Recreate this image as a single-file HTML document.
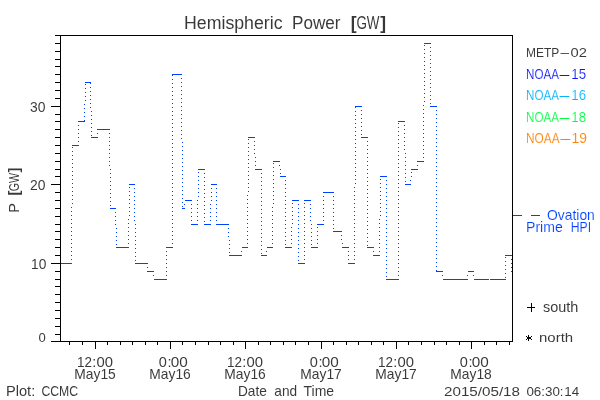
<!DOCTYPE html>
<html><head><meta charset="utf-8"><title>Hemispheric Power</title>
<style>html,body{margin:0;padding:0;background:#fff;width:600px;height:400px;overflow:hidden}svg{display:block;will-change:transform}</style>
</head><body>
<svg width="600" height="400" viewBox="0 0 600 400" shape-rendering="crispEdges">
<rect x="0" y="0" width="600" height="400" fill="#fff"/>
<path d="M60 35h1v307h-1zM60 35h453v1h-453zM512 35h1v307h-1zM60 341h453v1h-453zM51 341h9v1h-9zM55 334h5v1h-5zM55 326h5v1h-5zM55 318h5v1h-5zM55 310h5v1h-5zM55 302h5v1h-5zM55 294h5v1h-5zM55 286h5v1h-5zM55 279h5v1h-5zM55 271h5v1h-5zM51 263h9v1h-9zM55 255h5v1h-5zM55 247h5v1h-5zM55 239h5v1h-5zM55 231h5v1h-5zM55 224h5v1h-5zM55 216h5v1h-5zM55 208h5v1h-5zM55 200h5v1h-5zM55 192h5v1h-5zM51 184h9v1h-9zM55 176h5v1h-5zM55 169h5v1h-5zM55 161h5v1h-5zM55 153h5v1h-5zM55 145h5v1h-5zM55 137h5v1h-5zM55 129h5v1h-5zM55 121h5v1h-5zM55 114h5v1h-5zM51 106h9v1h-9zM55 98h5v1h-5zM55 90h5v1h-5zM55 82h5v1h-5zM55 74h5v1h-5zM55 66h5v1h-5zM55 59h5v1h-5zM55 51h5v1h-5zM55 43h5v1h-5zM55 35h5v1h-5zM69 342h1v3h-1zM82 342h1v3h-1zM95 342h1v7h-1zM107 342h1v3h-1zM120 342h1v3h-1zM132 342h1v3h-1zM145 342h1v3h-1zM157 342h1v3h-1zM170 342h1v7h-1zM182 342h1v3h-1zM195 342h1v3h-1zM208 342h1v3h-1zM220 342h1v3h-1zM233 342h1v3h-1zM245 342h1v7h-1zM258 342h1v3h-1zM270 342h1v3h-1zM283 342h1v3h-1zM295 342h1v3h-1zM308 342h1v3h-1zM321 342h1v7h-1zM333 342h1v3h-1zM346 342h1v3h-1zM358 342h1v3h-1zM371 342h1v3h-1zM383 342h1v3h-1zM396 342h1v7h-1zM408 342h1v3h-1zM421 342h1v3h-1zM434 342h1v3h-1zM446 342h1v3h-1zM459 342h1v3h-1zM471 342h1v7h-1zM484 342h1v3h-1zM496 342h1v3h-1zM509 342h1v3h-1z" fill="#000"/>
<path d="M61 263h11v1h-11zM72 145h7v1h-7zM78 121h7v1h-7zM85 82h6v1h-6zM91 137h7v1h-7zM97 129h13v1h-13zM110 208h6v1h-6zM116 247h13v1h-13zM129 184h6v1h-6zM135 263h13v1h-13zM147 271h7v1h-7zM154 279h13v1h-13zM166 247h7v1h-7zM172 74h10v1h-10zM182 208h3v1h-3zM185 200h7v1h-7zM191 224h7v1h-7zM198 169h7v1h-7zM204 224h7v1h-7zM211 184h6v1h-6zM216 224h13v1h-13zM229 255h13v1h-13zM242 247h6v1h-6zM248 137h7v1h-7zM255 169h7v1h-7zM261 255h6v1h-6zM267 247h6v1h-6zM273 161h7v1h-7zM280 176h6v1h-6zM285 247h7v1h-7zM292 200h7v1h-7zM298 263h7v1h-7zM304 200h7v1h-7zM311 247h7v1h-7zM317 224h7v1h-7zM323 192h11v1h-11zM333 231h9v1h-9zM342 247h7v1h-7zM348 263h7v1h-7zM355 106h7v1h-7zM361 137h7v1h-7zM367 247h7v1h-7zM373 255h7v1h-7zM380 176h7v1h-7zM386 279h13v1h-13zM398 121h7v1h-7zM405 184h6v1h-6zM411 169h7v1h-7zM417 161h7v1h-7zM424 43h7v1h-7zM430 106h7v1h-7zM436 271h7v1h-7zM443 279h25v1h-25zM468 271h6v1h-6zM474 279h15v1h-15zM490 279h16v1h-16zM505 255h7v1h-7zM511 271h1v1h-1zM71 259h1v1h-1zM71 255h1v1h-1zM71 251h1v1h-1zM71 247h1v1h-1zM71 243h1v1h-1zM71 239h1v1h-1zM71 235h1v1h-1zM71 231h1v1h-1zM71 227h1v1h-1zM71 223h1v1h-1zM71 219h1v1h-1zM71 215h1v1h-1zM71 211h1v1h-1zM71 207h1v1h-1zM72 203h1v1h-1zM72 199h1v1h-1zM72 195h1v1h-1zM72 191h1v1h-1zM72 187h1v1h-1zM72 183h1v1h-1zM72 179h1v1h-1zM72 175h1v1h-1zM72 171h1v1h-1zM72 167h1v1h-1zM72 163h1v1h-1zM72 159h1v1h-1zM72 155h1v1h-1zM72 151h1v1h-1zM72 147h1v1h-1zM78 141h1v1h-1zM78 137h1v1h-1zM78 133h1v1h-1zM78 129h1v1h-1zM78 125h1v1h-1zM84 120h1v1h-1zM84 116h1v1h-1zM84 112h1v1h-1zM84 108h1v1h-1zM84 104h1v1h-1zM85 100h1v1h-1zM85 96h1v1h-1zM85 92h1v1h-1zM85 88h1v1h-1zM85 84h1v1h-1zM90 83h1v1h-1zM90 87h1v1h-1zM90 91h1v1h-1zM90 95h1v1h-1zM90 99h1v1h-1zM90 103h1v1h-1zM90 107h1v1h-1zM91 111h1v1h-1zM91 115h1v1h-1zM91 119h1v1h-1zM91 123h1v1h-1zM91 127h1v1h-1zM91 131h1v1h-1zM91 135h1v1h-1zM97 133h1v1h-1zM109 133h1v1h-1zM109 137h1v1h-1zM109 141h1v1h-1zM109 145h1v1h-1zM109 149h1v1h-1zM109 153h1v1h-1zM109 157h1v1h-1zM109 161h1v1h-1zM109 165h1v1h-1zM110 169h1v1h-1zM110 173h1v1h-1zM110 177h1v1h-1zM110 181h1v1h-1zM110 185h1v1h-1zM110 189h1v1h-1zM110 193h1v1h-1zM110 197h1v1h-1zM110 201h1v1h-1zM110 205h1v1h-1zM115 212h1v1h-1zM115 216h1v1h-1zM115 220h1v1h-1zM115 224h1v1h-1zM116 228h1v1h-1zM116 232h1v1h-1zM116 236h1v1h-1zM116 240h1v1h-1zM116 244h1v1h-1zM128 243h1v1h-1zM128 239h1v1h-1zM128 235h1v1h-1zM128 231h1v1h-1zM128 227h1v1h-1zM128 223h1v1h-1zM128 219h1v1h-1zM129 215h1v1h-1zM129 211h1v1h-1zM129 207h1v1h-1zM129 203h1v1h-1zM129 199h1v1h-1zM129 195h1v1h-1zM129 191h1v1h-1zM129 187h1v1h-1zM134 188h1v1h-1zM134 192h1v1h-1zM134 196h1v1h-1zM134 200h1v1h-1zM134 204h1v1h-1zM134 208h1v1h-1zM134 212h1v1h-1zM134 216h1v1h-1zM134 220h1v1h-1zM135 224h1v1h-1zM135 228h1v1h-1zM135 232h1v1h-1zM135 236h1v1h-1zM135 240h1v1h-1zM135 244h1v1h-1zM135 248h1v1h-1zM135 252h1v1h-1zM135 256h1v1h-1zM135 260h1v1h-1zM147 267h1v1h-1zM153 275h1v1h-1zM166 275h1v1h-1zM166 271h1v1h-1zM166 267h1v1h-1zM166 263h1v1h-1zM166 259h1v1h-1zM166 255h1v1h-1zM166 251h1v1h-1zM172 243h1v1h-1zM172 239h1v1h-1zM172 235h1v1h-1zM172 231h1v1h-1zM172 227h1v1h-1zM172 223h1v1h-1zM172 219h1v1h-1zM172 215h1v1h-1zM172 211h1v1h-1zM172 207h1v1h-1zM172 203h1v1h-1zM172 199h1v1h-1zM172 195h1v1h-1zM172 191h1v1h-1zM172 187h1v1h-1zM172 183h1v1h-1zM172 179h1v1h-1zM172 175h1v1h-1zM172 171h1v1h-1zM172 167h1v1h-1zM172 163h1v1h-1zM172 159h1v1h-1zM172 155h1v1h-1zM172 151h1v1h-1zM172 147h1v1h-1zM172 143h1v1h-1zM172 139h1v1h-1zM172 135h1v1h-1zM172 131h1v1h-1zM172 127h1v1h-1zM172 123h1v1h-1zM172 119h1v1h-1zM172 115h1v1h-1zM172 111h1v1h-1zM172 107h1v1h-1zM172 103h1v1h-1zM172 99h1v1h-1zM172 95h1v1h-1zM172 91h1v1h-1zM172 87h1v1h-1zM172 83h1v1h-1zM172 79h1v1h-1zM172 75h1v1h-1zM181 78h1v1h-1zM181 82h1v1h-1zM181 86h1v1h-1zM181 90h1v1h-1zM181 94h1v1h-1zM181 98h1v1h-1zM181 102h1v1h-1zM181 106h1v1h-1zM181 110h1v1h-1zM181 114h1v1h-1zM181 118h1v1h-1zM181 122h1v1h-1zM181 126h1v1h-1zM181 130h1v1h-1zM181 134h1v1h-1zM181 138h1v1h-1zM182 142h1v1h-1zM182 146h1v1h-1zM182 150h1v1h-1zM182 154h1v1h-1zM182 158h1v1h-1zM182 162h1v1h-1zM182 166h1v1h-1zM182 170h1v1h-1zM182 174h1v1h-1zM182 178h1v1h-1zM182 182h1v1h-1zM182 186h1v1h-1zM182 190h1v1h-1zM182 194h1v1h-1zM182 198h1v1h-1zM182 202h1v1h-1zM182 206h1v1h-1zM184 204h1v1h-1zM191 204h1v1h-1zM191 208h1v1h-1zM191 212h1v1h-1zM191 216h1v1h-1zM191 220h1v1h-1zM197 220h1v1h-1zM197 216h1v1h-1zM197 212h1v1h-1zM197 208h1v1h-1zM197 204h1v1h-1zM197 200h1v1h-1zM198 196h1v1h-1zM198 192h1v1h-1zM198 188h1v1h-1zM198 184h1v1h-1zM198 180h1v1h-1zM198 176h1v1h-1zM198 172h1v1h-1zM204 173h1v1h-1zM204 177h1v1h-1zM204 181h1v1h-1zM204 185h1v1h-1zM204 189h1v1h-1zM204 193h1v1h-1zM204 197h1v1h-1zM204 201h1v1h-1zM204 205h1v1h-1zM204 209h1v1h-1zM204 213h1v1h-1zM204 217h1v1h-1zM204 221h1v1h-1zM210 220h1v1h-1zM210 216h1v1h-1zM210 212h1v1h-1zM210 208h1v1h-1zM210 204h1v1h-1zM211 200h1v1h-1zM211 196h1v1h-1zM211 192h1v1h-1zM211 188h1v1h-1zM216 188h1v1h-1zM216 192h1v1h-1zM216 196h1v1h-1zM216 200h1v1h-1zM216 204h1v1h-1zM216 208h1v1h-1zM216 212h1v1h-1zM216 216h1v1h-1zM216 220h1v1h-1zM228 228h1v1h-1zM228 232h1v1h-1zM228 236h1v1h-1zM229 240h1v1h-1zM229 244h1v1h-1zM229 248h1v1h-1zM229 252h1v1h-1zM241 251h1v1h-1zM247 243h1v1h-1zM247 239h1v1h-1zM247 235h1v1h-1zM247 231h1v1h-1zM247 227h1v1h-1zM247 223h1v1h-1zM247 219h1v1h-1zM247 215h1v1h-1zM247 211h1v1h-1zM247 207h1v1h-1zM247 203h1v1h-1zM247 199h1v1h-1zM247 195h1v1h-1zM248 191h1v1h-1zM248 187h1v1h-1zM248 183h1v1h-1zM248 179h1v1h-1zM248 175h1v1h-1zM248 171h1v1h-1zM248 167h1v1h-1zM248 163h1v1h-1zM248 159h1v1h-1zM248 155h1v1h-1zM248 151h1v1h-1zM248 147h1v1h-1zM248 143h1v1h-1zM248 139h1v1h-1zM254 141h1v1h-1zM254 145h1v1h-1zM254 149h1v1h-1zM254 153h1v1h-1zM255 157h1v1h-1zM255 161h1v1h-1zM255 165h1v1h-1zM261 173h1v1h-1zM261 177h1v1h-1zM261 181h1v1h-1zM261 185h1v1h-1zM261 189h1v1h-1zM261 193h1v1h-1zM261 197h1v1h-1zM261 201h1v1h-1zM261 205h1v1h-1zM261 209h1v1h-1zM261 213h1v1h-1zM261 217h1v1h-1zM261 221h1v1h-1zM261 225h1v1h-1zM261 229h1v1h-1zM261 233h1v1h-1zM261 237h1v1h-1zM261 241h1v1h-1zM261 245h1v1h-1zM261 249h1v1h-1zM261 253h1v1h-1zM266 251h1v1h-1zM272 243h1v1h-1zM272 239h1v1h-1zM272 235h1v1h-1zM272 231h1v1h-1zM272 227h1v1h-1zM272 223h1v1h-1zM272 219h1v1h-1zM272 215h1v1h-1zM272 211h1v1h-1zM272 207h1v1h-1zM273 203h1v1h-1zM273 199h1v1h-1zM273 195h1v1h-1zM273 191h1v1h-1zM273 187h1v1h-1zM273 183h1v1h-1zM273 179h1v1h-1zM273 175h1v1h-1zM273 171h1v1h-1zM273 167h1v1h-1zM273 163h1v1h-1zM279 165h1v1h-1zM280 169h1v1h-1zM280 173h1v1h-1zM285 180h1v1h-1zM285 184h1v1h-1zM285 188h1v1h-1zM285 192h1v1h-1zM285 196h1v1h-1zM285 200h1v1h-1zM285 204h1v1h-1zM285 208h1v1h-1zM285 212h1v1h-1zM285 216h1v1h-1zM285 220h1v1h-1zM285 224h1v1h-1zM285 228h1v1h-1zM285 232h1v1h-1zM285 236h1v1h-1zM285 240h1v1h-1zM285 244h1v1h-1zM291 243h1v1h-1zM291 239h1v1h-1zM291 235h1v1h-1zM291 231h1v1h-1zM291 227h1v1h-1zM292 223h1v1h-1zM292 219h1v1h-1zM292 215h1v1h-1zM292 211h1v1h-1zM292 207h1v1h-1zM292 203h1v1h-1zM298 204h1v1h-1zM298 208h1v1h-1zM298 212h1v1h-1zM298 216h1v1h-1zM298 220h1v1h-1zM298 224h1v1h-1zM298 228h1v1h-1zM298 232h1v1h-1zM298 236h1v1h-1zM298 240h1v1h-1zM298 244h1v1h-1zM298 248h1v1h-1zM298 252h1v1h-1zM298 256h1v1h-1zM298 260h1v1h-1zM304 259h1v1h-1zM304 255h1v1h-1zM304 251h1v1h-1zM304 247h1v1h-1zM304 243h1v1h-1zM304 239h1v1h-1zM304 235h1v1h-1zM304 231h1v1h-1zM304 227h1v1h-1zM304 223h1v1h-1zM304 219h1v1h-1zM304 215h1v1h-1zM304 211h1v1h-1zM304 207h1v1h-1zM304 203h1v1h-1zM310 204h1v1h-1zM310 208h1v1h-1zM310 212h1v1h-1zM310 216h1v1h-1zM310 220h1v1h-1zM311 224h1v1h-1zM311 228h1v1h-1zM311 232h1v1h-1zM311 236h1v1h-1zM311 240h1v1h-1zM311 244h1v1h-1zM317 243h1v1h-1zM317 239h1v1h-1zM317 235h1v1h-1zM317 231h1v1h-1zM317 227h1v1h-1zM323 220h1v1h-1zM323 216h1v1h-1zM323 212h1v1h-1zM323 208h1v1h-1zM323 204h1v1h-1zM323 200h1v1h-1zM323 196h1v1h-1zM333 196h1v1h-1zM333 200h1v1h-1zM333 204h1v1h-1zM333 208h1v1h-1zM333 212h1v1h-1zM333 216h1v1h-1zM333 220h1v1h-1zM333 224h1v1h-1zM333 228h1v1h-1zM341 235h1v1h-1zM341 239h1v1h-1zM342 243h1v1h-1zM348 251h1v1h-1zM348 255h1v1h-1zM348 259h1v1h-1zM354 259h1v1h-1zM354 255h1v1h-1zM354 251h1v1h-1zM354 247h1v1h-1zM354 243h1v1h-1zM354 239h1v1h-1zM354 235h1v1h-1zM354 231h1v1h-1zM354 227h1v1h-1zM354 223h1v1h-1zM354 219h1v1h-1zM354 215h1v1h-1zM354 211h1v1h-1zM354 207h1v1h-1zM354 203h1v1h-1zM354 199h1v1h-1zM354 195h1v1h-1zM354 191h1v1h-1zM354 187h1v1h-1zM355 183h1v1h-1zM355 179h1v1h-1zM355 175h1v1h-1zM355 171h1v1h-1zM355 167h1v1h-1zM355 163h1v1h-1zM355 159h1v1h-1zM355 155h1v1h-1zM355 151h1v1h-1zM355 147h1v1h-1zM355 143h1v1h-1zM355 139h1v1h-1zM355 135h1v1h-1zM355 131h1v1h-1zM355 127h1v1h-1zM355 123h1v1h-1zM355 119h1v1h-1zM355 115h1v1h-1zM355 111h1v1h-1zM355 107h1v1h-1zM361 110h1v1h-1zM361 114h1v1h-1zM361 118h1v1h-1zM361 122h1v1h-1zM361 126h1v1h-1zM361 130h1v1h-1zM361 134h1v1h-1zM367 141h1v1h-1zM367 145h1v1h-1zM367 149h1v1h-1zM367 153h1v1h-1zM367 157h1v1h-1zM367 161h1v1h-1zM367 165h1v1h-1zM367 169h1v1h-1zM367 173h1v1h-1zM367 177h1v1h-1zM367 181h1v1h-1zM367 185h1v1h-1zM367 189h1v1h-1zM367 193h1v1h-1zM367 197h1v1h-1zM367 201h1v1h-1zM367 205h1v1h-1zM367 209h1v1h-1zM367 213h1v1h-1zM367 217h1v1h-1zM367 221h1v1h-1zM367 225h1v1h-1zM367 229h1v1h-1zM367 233h1v1h-1zM367 237h1v1h-1zM367 241h1v1h-1zM367 245h1v1h-1zM373 251h1v1h-1zM379 251h1v1h-1zM379 247h1v1h-1zM379 243h1v1h-1zM379 239h1v1h-1zM379 235h1v1h-1zM379 231h1v1h-1zM379 227h1v1h-1zM379 223h1v1h-1zM379 219h1v1h-1zM380 215h1v1h-1zM380 211h1v1h-1zM380 207h1v1h-1zM380 203h1v1h-1zM380 199h1v1h-1zM380 195h1v1h-1zM380 191h1v1h-1zM380 187h1v1h-1zM380 183h1v1h-1zM380 179h1v1h-1zM386 180h1v1h-1zM386 184h1v1h-1zM386 188h1v1h-1zM386 192h1v1h-1zM386 196h1v1h-1zM386 200h1v1h-1zM386 204h1v1h-1zM386 208h1v1h-1zM386 212h1v1h-1zM386 216h1v1h-1zM386 220h1v1h-1zM386 224h1v1h-1zM386 228h1v1h-1zM386 232h1v1h-1zM386 236h1v1h-1zM386 240h1v1h-1zM386 244h1v1h-1zM386 248h1v1h-1zM386 252h1v1h-1zM386 256h1v1h-1zM386 260h1v1h-1zM386 264h1v1h-1zM386 268h1v1h-1zM386 272h1v1h-1zM386 276h1v1h-1zM398 275h1v1h-1zM398 271h1v1h-1zM398 267h1v1h-1zM398 263h1v1h-1zM398 259h1v1h-1zM398 255h1v1h-1zM398 251h1v1h-1zM398 247h1v1h-1zM398 243h1v1h-1zM398 239h1v1h-1zM398 235h1v1h-1zM398 231h1v1h-1zM398 227h1v1h-1zM398 223h1v1h-1zM398 219h1v1h-1zM398 215h1v1h-1zM398 211h1v1h-1zM398 207h1v1h-1zM398 203h1v1h-1zM398 199h1v1h-1zM398 195h1v1h-1zM398 191h1v1h-1zM398 187h1v1h-1zM398 183h1v1h-1zM398 179h1v1h-1zM398 175h1v1h-1zM398 171h1v1h-1zM398 167h1v1h-1zM398 163h1v1h-1zM398 159h1v1h-1zM398 155h1v1h-1zM398 151h1v1h-1zM398 147h1v1h-1zM398 143h1v1h-1zM398 139h1v1h-1zM398 135h1v1h-1zM398 131h1v1h-1zM398 127h1v1h-1zM398 123h1v1h-1zM404 125h1v1h-1zM404 129h1v1h-1zM404 133h1v1h-1zM404 137h1v1h-1zM404 141h1v1h-1zM404 145h1v1h-1zM404 149h1v1h-1zM405 153h1v1h-1zM405 157h1v1h-1zM405 161h1v1h-1zM405 165h1v1h-1zM405 169h1v1h-1zM405 173h1v1h-1zM405 177h1v1h-1zM405 181h1v1h-1zM410 180h1v1h-1zM411 176h1v1h-1zM411 172h1v1h-1zM417 165h1v1h-1zM423 157h1v1h-1zM423 153h1v1h-1zM423 149h1v1h-1zM423 145h1v1h-1zM423 141h1v1h-1zM423 137h1v1h-1zM423 133h1v1h-1zM423 129h1v1h-1zM423 125h1v1h-1zM423 121h1v1h-1zM423 117h1v1h-1zM423 113h1v1h-1zM423 109h1v1h-1zM423 105h1v1h-1zM424 101h1v1h-1zM424 97h1v1h-1zM424 93h1v1h-1zM424 89h1v1h-1zM424 85h1v1h-1zM424 81h1v1h-1zM424 77h1v1h-1zM424 73h1v1h-1zM424 69h1v1h-1zM424 65h1v1h-1zM424 61h1v1h-1zM424 57h1v1h-1zM424 53h1v1h-1zM424 49h1v1h-1zM424 45h1v1h-1zM430 47h1v1h-1zM430 51h1v1h-1zM430 55h1v1h-1zM430 59h1v1h-1zM430 63h1v1h-1zM430 67h1v1h-1zM430 71h1v1h-1zM430 75h1v1h-1zM430 79h1v1h-1zM430 83h1v1h-1zM430 87h1v1h-1zM430 91h1v1h-1zM430 95h1v1h-1zM430 99h1v1h-1zM430 103h1v1h-1zM436 110h1v1h-1zM436 114h1v1h-1zM436 118h1v1h-1zM436 122h1v1h-1zM436 126h1v1h-1zM436 130h1v1h-1zM436 134h1v1h-1zM436 138h1v1h-1zM436 142h1v1h-1zM436 146h1v1h-1zM436 150h1v1h-1zM436 154h1v1h-1zM436 158h1v1h-1zM436 162h1v1h-1zM436 166h1v1h-1zM436 170h1v1h-1zM436 174h1v1h-1zM436 178h1v1h-1zM436 182h1v1h-1zM436 186h1v1h-1zM436 190h1v1h-1zM436 194h1v1h-1zM436 198h1v1h-1zM436 202h1v1h-1zM436 206h1v1h-1zM436 210h1v1h-1zM436 214h1v1h-1zM436 218h1v1h-1zM436 222h1v1h-1zM436 226h1v1h-1zM436 230h1v1h-1zM436 234h1v1h-1zM436 238h1v1h-1zM436 242h1v1h-1zM436 246h1v1h-1zM436 250h1v1h-1zM436 254h1v1h-1zM436 258h1v1h-1zM436 262h1v1h-1zM436 266h1v1h-1zM436 270h1v1h-1zM442 275h1v1h-1zM467 275h1v1h-1zM473 275h1v1h-1zM505 277h1v1h-1zM505 273h1v1h-1zM505 269h1v1h-1zM505 265h1v1h-1zM505 261h1v1h-1zM505 257h1v1h-1zM511 259h1v1h-1zM511 263h1v1h-1zM511 267h1v1h-1zM511 271h1v1h-1z" fill="#0040ff"/>
<path d="M513 215h9v1h-9zM531 215h9v1h-9z" fill="#0040ff"/>
<path d="M531 303h1v9h-1zM527 307h8v1h-8zM528 335h1v6h-1zM527 337h4v2h-4zM526 336h1v1h-1zM531 336h1v1h-1zM526 339h1v1h-1zM531 339h1v1h-1z" fill="#000"/>

<g font-family="&quot;Liberation Sans&quot;, sans-serif"><text y="29" font-size="17.44" fill="#000" fill-opacity="0.78"><tspan x="184.00" textLength="98.56" lengthAdjust="spacingAndGlyphs">Hemispheric</tspan> <tspan x="292.05" textLength="48.48" lengthAdjust="spacingAndGlyphs">Power</tspan> <tspan x="350.65" font-weight="bold">[</tspan><tspan x="356.40" textLength="23.10" lengthAdjust="spacingAndGlyphs">GW</tspan><tspan x="380.30" font-weight="bold">]</tspan></text>
<text y="112" font-size="14.54" fill="#000" fill-opacity="0.78"><tspan x="30.00" textLength="15.45" lengthAdjust="spacingAndGlyphs">30</tspan></text>
<text y="190" font-size="14.54" fill="#000" fill-opacity="0.78"><tspan x="30.00" textLength="15.45" lengthAdjust="spacingAndGlyphs">20</tspan></text>
<text y="269" font-size="14.54" fill="#000" fill-opacity="0.78"><tspan x="31.00" textLength="15.28" lengthAdjust="spacingAndGlyphs">10</tspan></text>
<text y="342" font-size="13.08" fill="#000" fill-opacity="0.78"><tspan x="38.59">0</tspan></text>
<text y="367" font-size="14.54" fill="#000" fill-opacity="0.78"><tspan x="77.00" textLength="14.95" lengthAdjust="spacingAndGlyphs">12</tspan><tspan x="92.25">:</tspan><tspan x="96.56" textLength="16.48" lengthAdjust="spacingAndGlyphs">00</tspan></text>
<text y="379" font-size="14.54" fill="#000" fill-opacity="0.78"><tspan x="74.30" textLength="41.47" lengthAdjust="spacingAndGlyphs">May15</tspan></text>
<text y="367" font-size="14.54" fill="#000" fill-opacity="0.78"><tspan x="158.76">0</tspan><tspan x="167.38">:</tspan><tspan x="170.81" textLength="17.01" lengthAdjust="spacingAndGlyphs">00</tspan></text>
<text y="379" font-size="14.54" fill="#000" fill-opacity="0.78"><tspan x="149.30" textLength="41.47" lengthAdjust="spacingAndGlyphs">May16</tspan></text>
<text y="367" font-size="14.54" fill="#000" fill-opacity="0.78"><tspan x="227.00" textLength="14.95" lengthAdjust="spacingAndGlyphs">12</tspan><tspan x="242.25">:</tspan><tspan x="246.56" textLength="16.48" lengthAdjust="spacingAndGlyphs">00</tspan></text>
<text y="379" font-size="14.54" fill="#000" fill-opacity="0.78"><tspan x="224.30" textLength="41.47" lengthAdjust="spacingAndGlyphs">May16</tspan></text>
<text y="367" font-size="14.54" fill="#000" fill-opacity="0.78"><tspan x="309.76">0</tspan><tspan x="318.38">:</tspan><tspan x="321.81" textLength="17.01" lengthAdjust="spacingAndGlyphs">00</tspan></text>
<text y="379" font-size="14.54" fill="#000" fill-opacity="0.78"><tspan x="300.30" textLength="41.47" lengthAdjust="spacingAndGlyphs">May17</tspan></text>
<text y="367" font-size="14.54" fill="#000" fill-opacity="0.78"><tspan x="378.00" textLength="14.95" lengthAdjust="spacingAndGlyphs">12</tspan><tspan x="393.25">:</tspan><tspan x="397.56" textLength="16.48" lengthAdjust="spacingAndGlyphs">00</tspan></text>
<text y="379" font-size="14.54" fill="#000" fill-opacity="0.78"><tspan x="375.30" textLength="41.47" lengthAdjust="spacingAndGlyphs">May17</tspan></text>
<text y="367" font-size="14.54" fill="#000" fill-opacity="0.78"><tspan x="459.76">0</tspan><tspan x="468.38">:</tspan><tspan x="471.81" textLength="17.01" lengthAdjust="spacingAndGlyphs">00</tspan></text>
<text y="379" font-size="14.54" fill="#000" fill-opacity="0.78"><tspan x="450.30" textLength="41.47" lengthAdjust="spacingAndGlyphs">May18</tspan></text>
<text y="396" font-size="14.54" fill="#000" fill-opacity="0.78"><tspan x="5.90" textLength="25.27" lengthAdjust="spacingAndGlyphs">Plot</tspan><tspan x="31.25">:</tspan> <tspan x="41.40" textLength="36.79" lengthAdjust="spacingAndGlyphs">CCMC</tspan></text>
<text y="396" font-size="14.54" fill="#000" fill-opacity="0.78"><tspan x="238.00" textLength="28.88" lengthAdjust="spacingAndGlyphs">Date</tspan> <tspan x="274.31" textLength="22.78" lengthAdjust="spacingAndGlyphs">and</tspan> <tspan x="303.55" textLength="30.52" lengthAdjust="spacingAndGlyphs">Time</tspan></text>
<text y="396" font-size="13.08" fill="#000" fill-opacity="0.78"><tspan x="444.00" textLength="76.01" lengthAdjust="spacingAndGlyphs">2015/05/18</tspan> <tspan x="526.42" textLength="14.89" lengthAdjust="spacingAndGlyphs">06</tspan><tspan x="541.21">:</tspan><tspan x="544.97" textLength="14.89" lengthAdjust="spacingAndGlyphs">30</tspan><tspan x="559.76">:</tspan><tspan x="564.35" textLength="14.83" lengthAdjust="spacingAndGlyphs">14</tspan></text>
<text y="57" font-size="13.08" fill="#000" fill-opacity="0.78"><tspan x="526.00" textLength="33.19" lengthAdjust="spacingAndGlyphs">METP</tspan><tspan x="560.52" textLength="8.63" lengthAdjust="spacingAndGlyphs">–</tspan><tspan x="570.50" textLength="16.36" lengthAdjust="spacingAndGlyphs">02</tspan></text>
<text y="79" font-size="14.54" fill="#0814ff" stroke="#fff" stroke-width="0.15"><tspan x="526.00" textLength="32.98" lengthAdjust="spacingAndGlyphs">NOAA</tspan><tspan x="559.52" textLength="9.99" lengthAdjust="spacingAndGlyphs">–</tspan><tspan x="571.25" textLength="14.77" lengthAdjust="spacingAndGlyphs">15</tspan></text>
<text y="100" font-size="14.54" fill="#00b4ff" stroke="#fff" stroke-width="0.15"><tspan x="526.00" textLength="32.98" lengthAdjust="spacingAndGlyphs">NOAA</tspan><tspan x="559.52" textLength="9.99" lengthAdjust="spacingAndGlyphs">–</tspan><tspan x="571.25" textLength="14.77" lengthAdjust="spacingAndGlyphs">16</tspan></text>
<text y="122" font-size="14.54" fill="#00ff40" stroke="#fff" stroke-width="0.15"><tspan x="526.00" textLength="32.98" lengthAdjust="spacingAndGlyphs">NOAA</tspan><tspan x="559.52" textLength="9.99" lengthAdjust="spacingAndGlyphs">–</tspan><tspan x="571.25" textLength="14.77" lengthAdjust="spacingAndGlyphs">18</tspan></text>
<text y="143" font-size="14.54" fill="#ff8000" stroke="#fff" stroke-width="0.15"><tspan x="526.00" textLength="33.57" lengthAdjust="spacingAndGlyphs">NOAA</tspan><tspan x="560.20" textLength="10.15" lengthAdjust="spacingAndGlyphs">–</tspan><tspan x="571.52" textLength="15.46" lengthAdjust="spacingAndGlyphs">19</tspan></text>
<text y="220" font-size="14.54" fill="#0040ff" stroke="#fff" stroke-width="0.15"><tspan x="547.00" textLength="47.86" lengthAdjust="spacingAndGlyphs">Ovation</tspan></text>
<text y="232" font-size="14.54" fill="#0040ff" stroke="#fff" stroke-width="0.15"><tspan x="526.00" textLength="36.77" lengthAdjust="spacingAndGlyphs">Prime</tspan> <tspan x="570.67" textLength="20.37" lengthAdjust="spacingAndGlyphs">HPI</tspan></text>
<text y="312" font-size="13.80" fill="#000" fill-opacity="0.78"><tspan x="543.00" textLength="35.34" lengthAdjust="spacingAndGlyphs">south</tspan></text>
<text y="342" font-size="12.42" fill="#000" fill-opacity="0.78"><tspan x="539.00" textLength="34.15" lengthAdjust="spacingAndGlyphs">north</tspan></text>
<text transform="translate(19 211) rotate(-90)" y="0" font-size="14.54" fill="#000" fill-opacity="0.78"><tspan x="-1.74">P</tspan> <tspan x="15.58" font-weight="bold">[</tspan><tspan x="19.85" textLength="18.13" lengthAdjust="spacingAndGlyphs">GW</tspan><tspan x="38.45" font-weight="bold">]</tspan></text></g>
</svg>
</body></html>
